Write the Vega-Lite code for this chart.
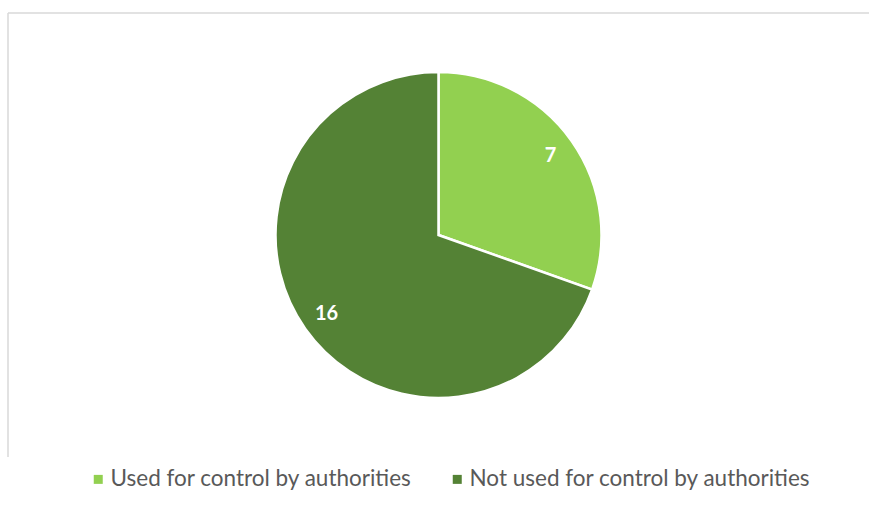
{
  "$schema": "https://vega.github.io/schema/vega-lite/v6.json",
  "width": 861,
  "height": 444,
  "autosize": "none",
  "padding": {"left": 8, "top": 13, "right": 0, "bottom": 52},
  "background": "white",
  "config": {
    "view": {"stroke": "#d9d9d9", "strokeWidth": 1.5, "strokeDash": [861, 1305, 444, 0]},
    "font": "Lato"
  },
  "data": {
    "values": [
      {"category": "Used for control by authorities", "count": 7, "order": 1},
      {"category": "Not used for control by authorities", "count": 16, "order": 2}
    ]
  },
  "layer": [
    {
      "mark": {"type": "text", "text": ""},
      "encoding": {
        "x": {"field": "order", "type": "nominal", "axis": null}
      }
    },
    {
      "mark": {"type": "arc", "outerRadius": 163, "stroke": "white", "strokeWidth": 2.5},
      "encoding": {
        "theta": {"field": "count", "type": "quantitative", "stack": true},
        "order": {"field": "order", "type": "quantitative"},
        "color": {
          "field": "category",
          "type": "nominal",
          "scale": {
            "domain": ["Used for control by authorities", "Not used for control by authorities"],
            "range": ["#92d050", "#548235"]
          },
          "legend": {
            "title": null,
            "orient": "none",
            "legendX": 79,
            "legendY": 455,
            "direction": "horizontal",
            "symbolType": "square",
            "symbolSize": 81,
            "symbolStrokeWidth": 0,
            "labelFontSize": 22.5,
            "labelColor": "#595959",
            "labelFont": "Lato",
            "labelLimit": 500,
            "labelOffset": 1,
            "columnPadding": 34
          }
        }
      }
    },
    {
      "mark": {"type": "text", "radius": 137, "fontSize": 20, "fontWeight": "bold", "fill": "white", "font": "Lato"},
      "encoding": {
        "theta": {"field": "count", "type": "quantitative", "stack": true},
        "order": {"field": "order", "type": "quantitative"},
        "text": {"field": "count", "type": "quantitative"}
      }
    }
  ]
}
